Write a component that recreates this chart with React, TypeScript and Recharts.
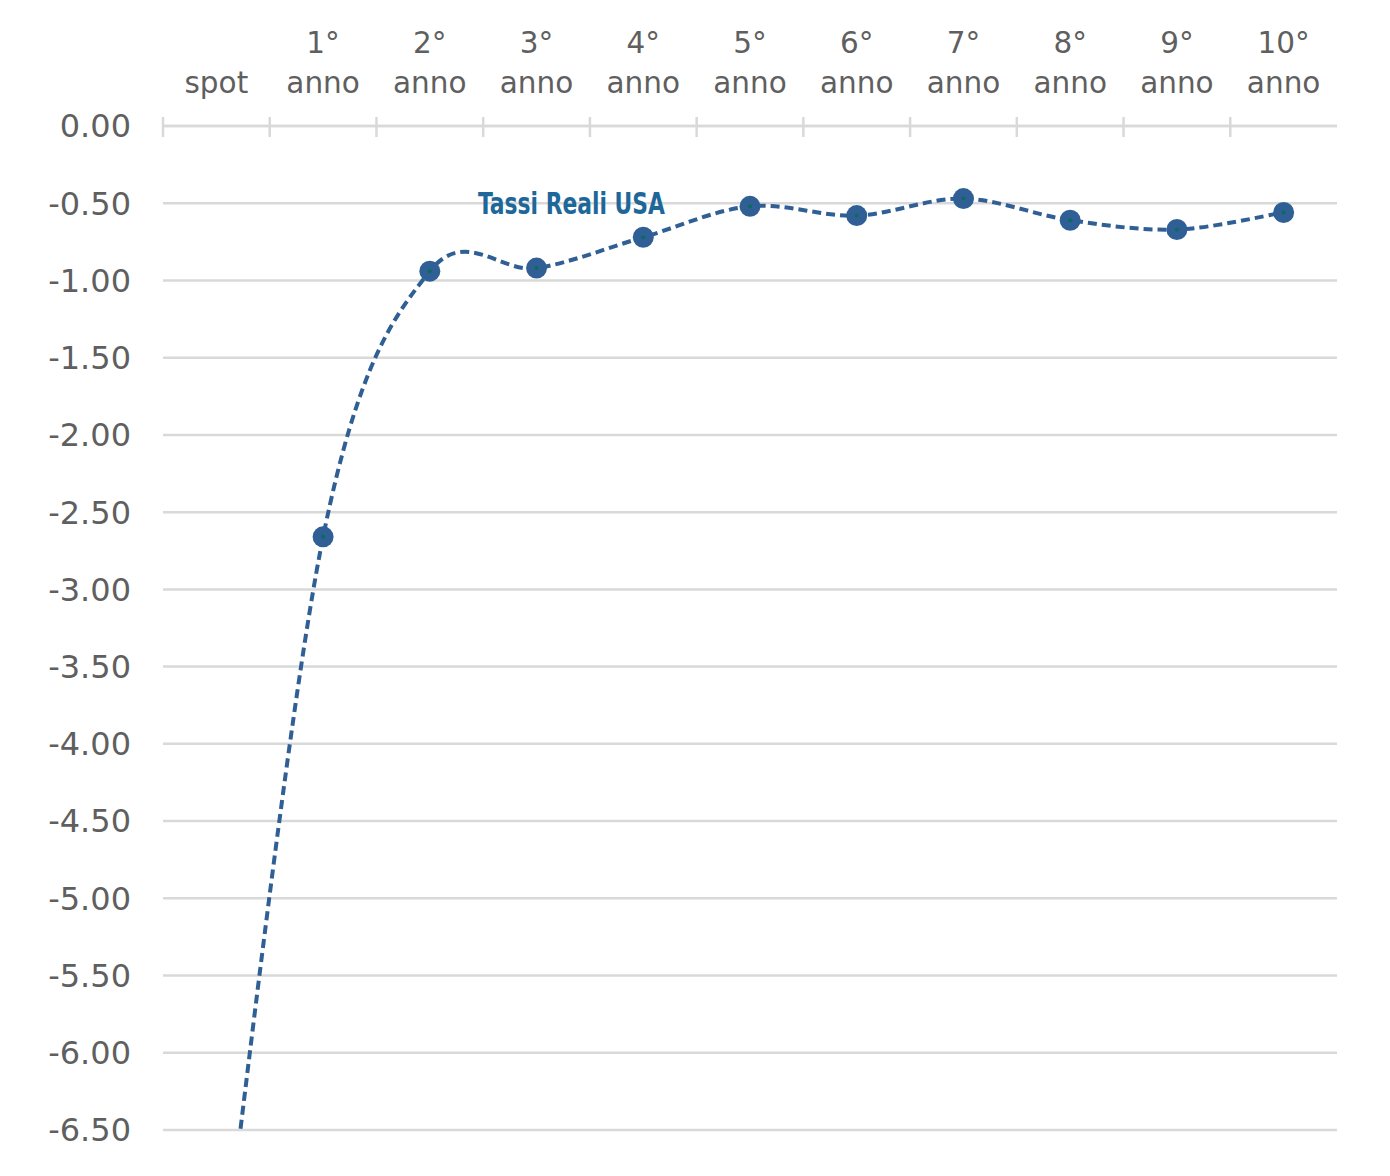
import { LineChart, Line, XAxis, YAxis, CartesianGrid } from 'recharts';

const categories = ['spot', '1° anno', '2° anno', '3° anno', '4° anno', '5° anno', '6° anno', '7° anno', '8° anno', '9° anno', '10° anno'];
const realRatesUsa = [-7.75, -2.66, -0.94, -0.92, -0.72, -0.52, -0.58, -0.47, -0.61, -0.67, -0.56];
const yTicks = [0, -0.5, -1, -1.5, -2, -2.5, -3, -3.5, -4, -4.5, -5, -5.5, -6, -6.5];
const seriesName = 'Tassi Reali USA';

const data = categories.map((name, i) => ({ name, value: realRatesUsa[i] }));

const W = 1374;
const H = 1160;
const MARGIN = { top: 0, right: 45, bottom: 38, left: 0 };
const Y_AXIS_W = 155;
const X_AXIS_H = 118;
const BAND = (W - MARGIN.right - Y_AXIS_W) / categories.length;

const LINE_COLOR = '#2f5f95';
const TEXT_COLOR = '#5f5f5f';
const GRID_COLOR = '#d9d9d9';

// smoothing similar to the spreadsheet one (catmull-rom as bezier)
const smoothCurve: any = (context: any) => {
  let pts: number[][] = [];
  return {
    areaStart() {},
    areaEnd() {},
    lineStart() {
      pts = [];
    },
    point(x: number, y: number) {
      pts.push([+x, +y]);
    },
    lineEnd() {
      const n = pts.length;
      if (!n) return;
      context.moveTo(pts[0][0], pts[0][1]);
      for (let i = 0; i < n - 1; i++) {
        const p0 = pts[Math.max(i - 1, 0)];
        const p1 = pts[i];
        const p2 = pts[i + 1];
        const p3 = pts[Math.min(i + 2, n - 1)];
        context.bezierCurveTo(
          p1[0] + (p2[0] - p0[0]) / 6,
          p1[1] + (p2[1] - p0[1]) / 6,
          p2[0] - (p3[0] - p1[0]) / 6,
          p2[1] - (p3[1] - p1[1]) / 6,
          p2[0],
          p2[1]
        );
      }
    }
  };
};

const CategoryTick = (props: any) => {
  const { x, y, payload } = props;
  const parts = String(payload.value).split(' ');
  const lines = parts.length > 1 ? parts : ['', parts[0]];
  return (
    <g>
      <line x1={x - BAND / 2} x2={x - BAND / 2} y1={y - 9} y2={y + 11} stroke={GRID_COLOR} strokeWidth={2.5} />
      <text x={x} y={y - 73} textAnchor="middle" fill={TEXT_COLOR} fontSize={29.5} fontFamily="DejaVu Sans">
        {lines[0]}
      </text>
      <text x={x} y={y - 33} textAnchor="middle" fill={TEXT_COLOR} fontSize={29.5} fontFamily="DejaVu Sans">
        {lines[1]}
      </text>
    </g>
  );
};

const Marker = (props: any) => {
  const { cx, cy, value } = props;
  if (value < -6.5 || cx == null || cy == null) return <g key={props.key} />;
  return (
    <g key={props.key}>
      <circle cx={cx} cy={cy} r={10.5} fill={LINE_COLOR} />
      <circle cx={cx} cy={cy} r={2} fill="#0b6b5e" />
    </g>
  );
};

export default function App() {
  return (
    <div style={{ position: 'relative', width: W, height: H }}>
      <LineChart width={W} height={H} data={data} margin={MARGIN}>
        <CartesianGrid vertical={false} stroke={GRID_COLOR} strokeWidth={2.5} />
        <XAxis
          dataKey="name"
          orientation="top"
          scale="band"
          height={X_AXIS_H}
          interval={0}
          tickLine={false}
          tickSize={0}
          tickMargin={0}
          axisLine={{ stroke: GRID_COLOR, strokeWidth: 2.5 }}
          tick={<CategoryTick />}
        />
        <YAxis
          type="number"
          domain={[-6.5, 0]}
          ticks={yTicks}
          allowDataOverflow
          width={Y_AXIS_W}
          axisLine={false}
          tickLine={false}
          tickSize={8}
          tickMargin={24}
          tickFormatter={(v: number) => (v === 0 ? '0.00' : v.toFixed(2))}
          tick={{ fill: TEXT_COLOR, fontSize: 32, fontFamily: 'DejaVu Sans' }}
        />
        <Line
          dataKey="value"
          type={smoothCurve}
          stroke={LINE_COLOR}
          strokeWidth={4}
          strokeDasharray="9 5"
          dot={<Marker />}
          activeDot={false}
          isAnimationActive={false}
        />
      </LineChart>
      <svg width={W} height={H} style={{ position: 'absolute', left: 0, top: 0, pointerEvents: 'none' }}>
        <text
          x={470}
          y={206}
          fill="#1d6799"
          fontSize={31}
          fontWeight="bold"
          fontFamily="'DejaVu Sans Condensed', 'Liberation Sans Narrow', sans-serif"
          textLength={187}
          lengthAdjust="spacingAndGlyphs"
        >
          {seriesName}
        </text>
      </svg>
    </div>
  );
}
